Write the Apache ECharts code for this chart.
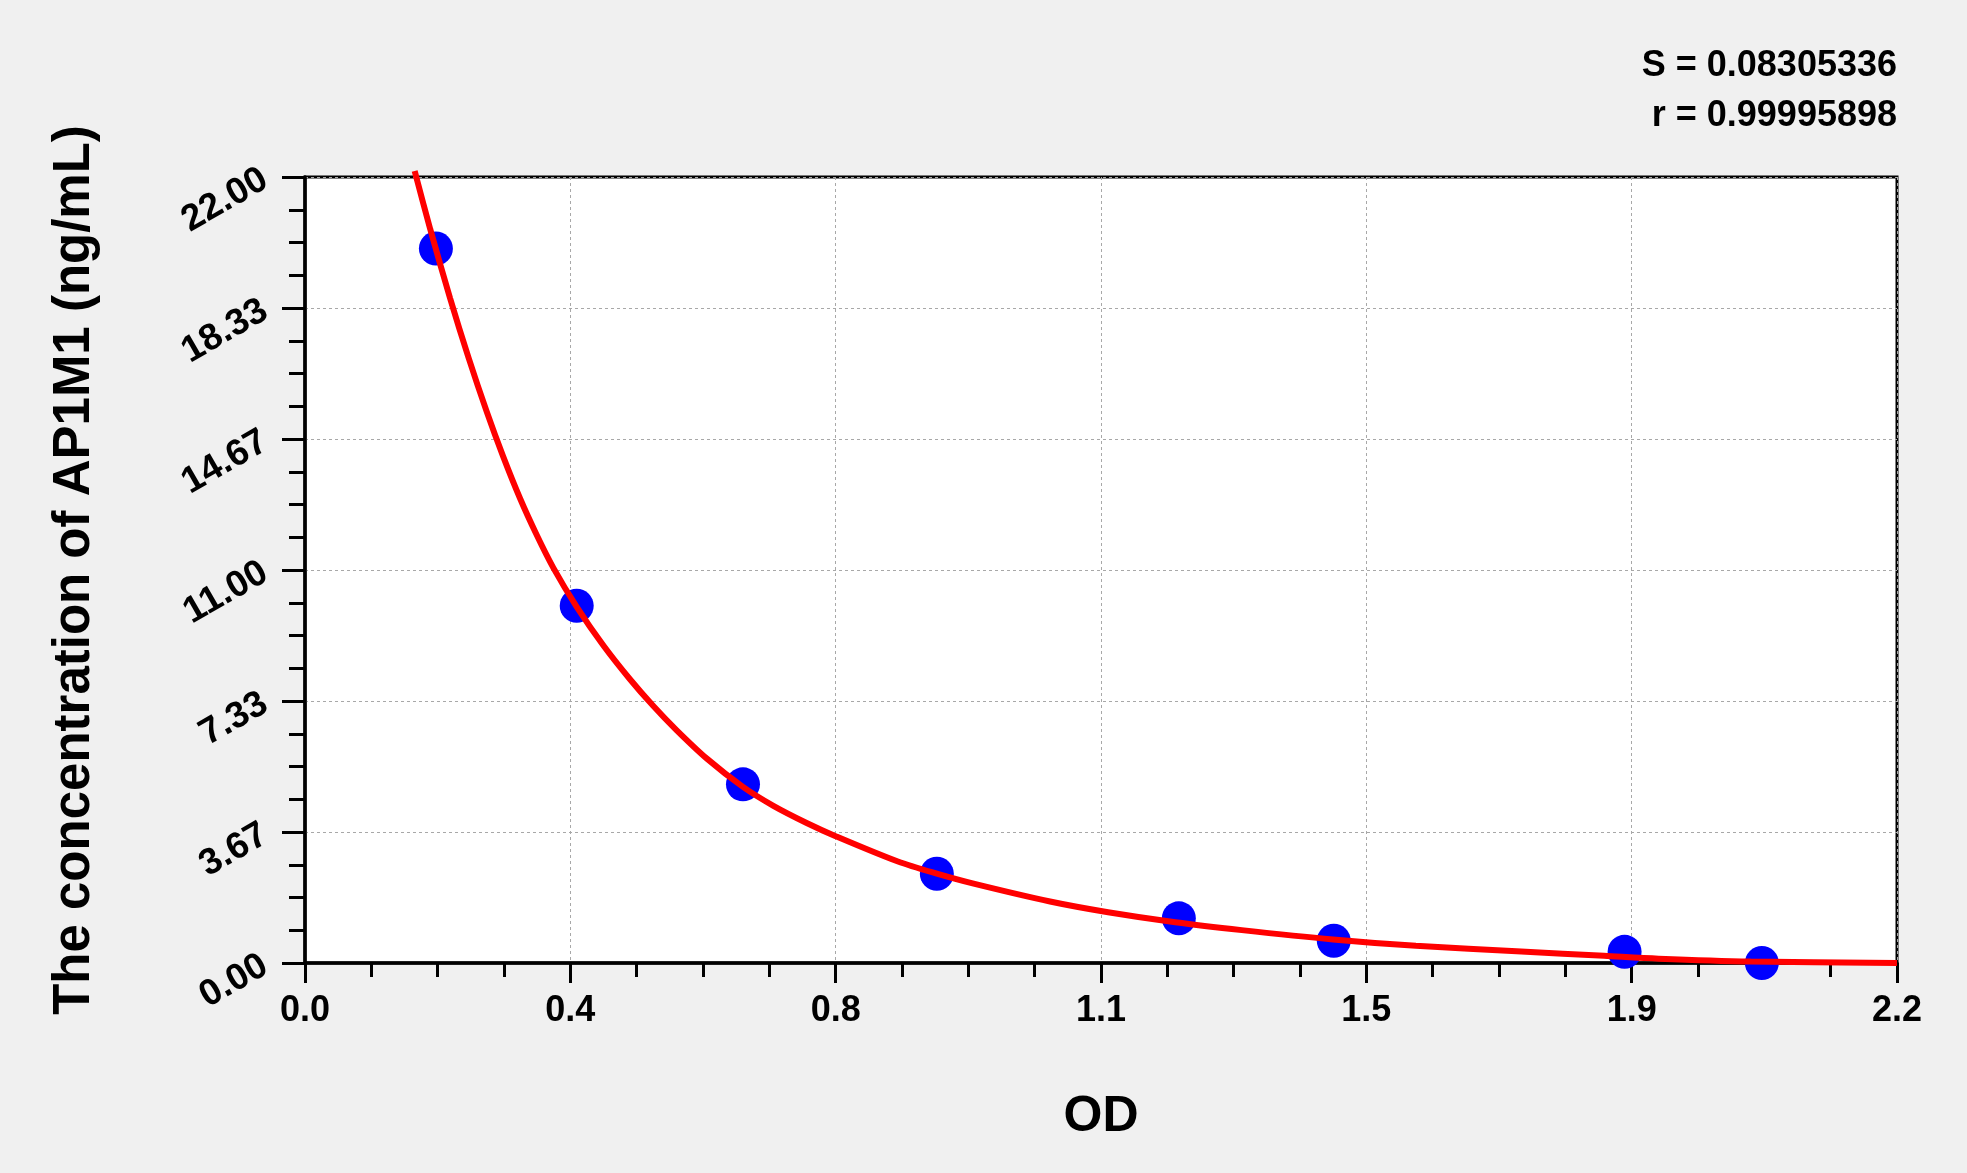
<!DOCTYPE html>
<html lang="en">

<head>
  <meta charset="UTF-8">
  <title>AP1M1 standard curve</title>
  <script src="https://cdn.jsdelivr.net/npm/echarts@6.0.0/dist/echarts.min.js"></script>
  <style>
    html, body { margin: 0; padding: 0; background: #f0f0f0; }
  </style>
</head>

<body>
  <div id="main" style="width: 1967px; height: 1173px;"></div>
  <script>
    // standards: OD read vs concentration
    var pointOD = [0.185, 0.384, 0.619, 0.893, 1.235, 1.454, 1.865, 2.059];
    var pointConc = [20, 10, 5, 2.5, 1.25, 0.625, 0.312, 0];

    // fitted curve
    var curveOD = [0.155, 0.177, 0.205, 0.231, 0.257, 0.280, 0.304, 0.327, 0.351, 0.384, 0.422, 0.459,
      0.492, 0.525, 0.568, 0.619, 0.662, 0.709, 0.750, 0.838, 0.893, 0.945, 1.053, 1.135, 1.230,
      1.324, 1.453, 1.570, 1.719, 1.836, 1.913, 2.043, 2.250];
    var curveConc = [22.17, 20.54, 18.61, 16.95, 15.42, 14.18, 13.0, 12.0, 11.06, 9.97, 8.88, 7.95,
      7.20, 6.52, 5.72, 4.93, 4.40, 3.92, 3.55, 2.84, 2.50, 2.22, 1.72, 1.42, 1.14,
      0.92, 0.66, 0.48, 0.32, 0.20, 0.12, 0.04, 0.0];

    var xTickLabels = ['0.0', '0.4', '0.8', '1.1', '1.5', '1.9', '2.2'];
    var yTickLabels = ['0.00', '3.67', '7.33', '11.00', '14.67', '18.33', '22.00'];
    var statLines = ['S = 0.08305336', 'r = 0.99995898'];

    var xStep = 0.375;
    var yStep = 22 / 6;
    var font = 'Liberation Sans, Arial, sans-serif';

    var myChart = echarts.init(document.getElementById('main'));

    // one right-aligned text per fit statistic
    var statText = statLines.map(function (line, i) {
      return {
        type: 'text',
        right: 70,
        top: 48 + i * 50,
        style: {
          text: line,
          font: 'bold 36px ' + font,
          fill: '#000'
        }
      };
    });

    var option = {
      backgroundColor: '#f0f0f0',
      animation: false,
      graphic: statText,
      grid: {
        left: 305,
        right: 70,
        top: 177,
        bottom: 210,
        show: true,
        backgroundColor: '#fff',
        borderColor: '#000',
        borderWidth: 3
      },
      xAxis: {
        type: 'value',
        min: 0,
        max: 2.25,
        interval: xStep,
        name: 'OD',
        nameLocation: 'middle',
        nameGap: 129,
        nameTextStyle: { fontFamily: font, fontWeight: 'bold', fontSize: 50, color: '#000' },
        axisLine: { lineStyle: { color: '#000', width: 3.5 } },
        axisTick: { show: true, length: 20, lineStyle: { color: '#000', width: 3 } },
        minorTick: { show: true, splitNumber: 4, length: 14, lineStyle: { color: '#000', width: 3 } },
        splitLine: { show: true, lineStyle: { color: '#a8a8a8', width: 1, type: [3, 3] } },
        axisLabel: {
          margin: 30,
          fontFamily: font,
          fontWeight: 'bold',
          fontSize: 36,
          color: '#000',
          formatter: function (v) { return xTickLabels[Math.round(v / xStep)]; }
        }
      },
      yAxis: {
        type: 'value',
        min: 0,
        max: 22,
        interval: yStep,
        name: 'The concentration of AP1M1 (ng/mL)',
        nameLocation: 'middle',
        nameRotate: 90,
        nameGap: 205,
        nameTextStyle: { fontFamily: font, fontWeight: 'bold', fontSize: 51, color: '#000' },
        axisLine: { lineStyle: { color: '#000', width: 3.5 } },
        axisTick: { show: true, length: 23, lineStyle: { color: '#000', width: 3 } },
        minorTick: { show: true, splitNumber: 4, length: 16, lineStyle: { color: '#000', width: 3 } },
        splitLine: { show: true, lineStyle: { color: '#a8a8a8', width: 1, type: [3, 3] } },
        axisLabel: {
          margin: 40,
          rotate: 30,
          fontFamily: font,
          fontWeight: 'bold',
          fontSize: 37,
          color: '#000',
          formatter: function (v) { return yTickLabels[Math.round(v / yStep)]; }
        }
      },
      series: [
        {
          type: 'scatter',
          symbol: 'circle',
          symbolSize: 34,
          itemStyle: { color: '#0000ff', opacity: 1 },
          z: 2,
          data: pointOD.map(function (x, i) { return [x, pointConc[i]]; })
        },
        {
          type: 'line',
          showSymbol: false,
          smooth: 0.3,
          clip: false,
          lineStyle: { color: '#ff0000', width: 6 },
          z: 3,
          data: curveOD.map(function (x, i) { return [x, curveConc[i]]; })
        }
      ]
    };

    myChart.setOption(option);
  </script>
</body>

</html>
